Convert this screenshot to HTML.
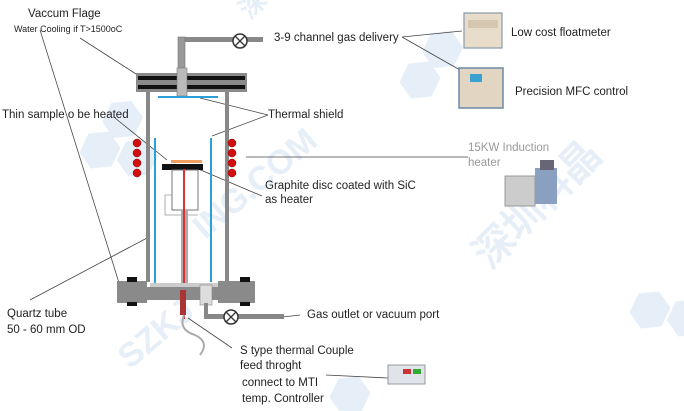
<!DOCTYPE html>
<html><head><meta charset="utf-8"><style>
html,body{margin:0;padding:0;background:#fff;}
svg{display:block;}
text{font-family:"Liberation Sans","DejaVu Sans",sans-serif;fill:#222;}
</style></head><body>
<svg width="684" height="411" viewBox="0 0 684 411" xmlns="http://www.w3.org/2000/svg">
<rect width="684" height="411" fill="#fff"/>
<!-- watermarks -->
<g fill="#dbe7f4" opacity="0.7">
<g transform="translate(100,150) rotate(-35)"><polygon points="-18,-10 0,-20 18,-10 18,10 0,20 -18,10"/><polygon points="18,-22 36,-32 54,-22 54,-2 36,8 18,-2"/><polygon points="8,18 26,8 44,18 44,38 26,48 8,38"/></g>
<g transform="translate(420,80) rotate(-35)"><polygon points="-18,-10 0,-20 18,-10 18,10 0,20 -18,10"/><polygon points="18,-22 36,-32 54,-22 54,-2 36,8 18,-2"/></g>
<g transform="translate(650,310) rotate(-35)"><polygon points="-18,-10 0,-20 18,-10 18,10 0,20 -18,10"/><polygon points="8,18 26,8 44,18 44,38 26,48 8,38"/></g>
<g transform="translate(350,395) rotate(-35)"><polygon points="-18,-10 0,-20 18,-10 18,10 0,20 -18,10"/></g>
</g>
<g opacity="0.7">
<text x="130" y="370" transform="rotate(-40 130 370)" font-size="34" font-weight="bold" style="fill:#dbe7f4">SZKJ</text>
<text x="205" y="240" transform="rotate(-40 205 240)" font-size="34" font-weight="bold" style="fill:#dbe7f4">ING.COM</text>
<text x="490" y="270" transform="rotate(-45 490 270)" font-size="40" font-weight="bold" style="fill:#dbe7f4">深圳科晶</text>
<text x="250" y="20" transform="rotate(-45 250 20)" font-size="26" font-weight="bold" style="fill:#dbe7f4">深圳</text>
</g>

<!-- leader lines -->
<g stroke="#444" stroke-width="0.8" fill="none">
<line x1="80" y1="38" x2="136" y2="74"/>
<line x1="40" y1="30" x2="120" y2="286"/>
<line x1="30" y1="300" x2="147" y2="238"/>
<line x1="115" y1="118" x2="167" y2="160"/>
<line x1="268" y1="115" x2="200" y2="98"/>
<line x1="268" y1="115" x2="212" y2="136"/>
<line x1="262" y1="196" x2="196" y2="168"/>
<line x1="246" y1="157" x2="468" y2="157"/>
<line x1="402" y1="37" x2="462" y2="31"/>
<line x1="402" y1="37" x2="460" y2="70"/>
<line x1="283" y1="317" x2="300" y2="315"/>
<line x1="188" y1="318" x2="232" y2="348"/>
<line x1="326" y1="375" x2="388" y2="378"/>
</g>

<!-- top pipe + valve -->
<rect x="178" y="37" width="85" height="5" fill="#888"/>
<rect x="178" y="37" width="7" height="58" fill="#999" stroke="#777" stroke-width="0.6"/>
<circle cx="240" cy="41" r="7" fill="#fff" stroke="#333" stroke-width="1.5"/>
<path d="M235,36 L245,46 M245,36 L235,46" stroke="#333" stroke-width="1.3"/>
<!-- top flange -->
<rect x="136" y="73" width="111" height="19" fill="#8a8a8a"/>
<rect x="138" y="76" width="107" height="4" fill="#111"/>
<rect x="138" y="85" width="107" height="4" fill="#111"/>
<rect x="177" y="68" width="10" height="28" fill="#bbb" stroke="#777" stroke-width="0.6"/>
<!-- walls -->
<rect x="146" y="92" width="4" height="190" fill="#888"/>
<rect x="225" y="92" width="4" height="190" fill="#888"/>
<!-- thermal shield -->
<rect x="158" y="96" width="60" height="2" fill="#2a9fd8"/>
<rect x="154" y="138" width="2" height="148" fill="#2a9fd8"/>
<rect x="210" y="138" width="2" height="144" fill="#2a9fd8"/>
<!-- coils -->
<g fill="#d01010" stroke="#900" stroke-width="0.5">
<circle cx="137" cy="143" r="4"/><circle cx="137" cy="153" r="4"/><circle cx="137" cy="163" r="4"/><circle cx="137" cy="173" r="4"/>
<circle cx="232" cy="143" r="4"/><circle cx="232" cy="153" r="4"/><circle cx="232" cy="163" r="4"/><circle cx="232" cy="173" r="4"/>
</g>
<!-- sample/disc/heater -->
<rect x="171" y="160" width="31" height="3" fill="#f0a060"/>
<rect x="162" y="164" width="41" height="6" fill="#111"/>
<rect x="172" y="170" width="26" height="40" fill="#fff" stroke="#777" stroke-width="1"/>
<path d="M165,195 L172,195 M165,195 L165,215 L198,215" stroke="#999" fill="none" stroke-width="0.8"/>
<rect x="181" y="210" width="7" height="75" fill="#aaa"/>
<rect x="183" y="169" width="2" height="150" fill="#e03030"/>
<!-- bottom flange -->
<rect x="117" y="281" width="30" height="22" fill="#8a8a8a"/>
<rect x="218" y="281" width="37" height="22" fill="#8a8a8a"/>
<rect x="117" y="287" width="138" height="13" fill="#8a8a8a"/>
<rect x="150" y="283" width="68" height="4" fill="#ccc"/>
<rect x="127" y="277" width="10" height="5" fill="#111"/>
<rect x="127" y="302" width="10" height="4" fill="#111"/>
<rect x="240" y="277" width="10" height="5" fill="#111"/>
<rect x="240" y="302" width="10" height="4" fill="#111"/>
<rect x="200" y="285" width="12" height="20" fill="#ddd" stroke="#888" stroke-width="0.6"/>
<rect x="180" y="290" width="6" height="25" fill="#a33"/>
<path d="M184,315 Q178,330 195,335 Q210,342 200,355" stroke="#aaa" fill="none" stroke-width="2"/>
<!-- gas outlet -->
<rect x="204" y="303" width="4" height="15" fill="#888"/>
<rect x="204" y="314" width="80" height="5" fill="#888"/>
<circle cx="231" cy="317" r="7" fill="#fff" stroke="#333" stroke-width="1.5"/>
<path d="M226,312 L236,322 M236,312 L226,322" stroke="#333" stroke-width="1.3"/>

<!-- devices -->
<rect x="464" y="13" width="38" height="35" fill="#e8dccb" stroke="#8899aa" stroke-width="1.2"/>
<rect x="468" y="20" width="30" height="8" fill="#d6c8b0"/>
<rect x="459" y="68" width="44" height="40" fill="#e2d6c2" stroke="#6a88aa" stroke-width="1.5"/>
<rect x="470" y="74" width="12" height="8" fill="#3aa0d0"/>
<rect x="505" y="176" width="30" height="30" fill="#ccc" stroke="#999"/>
<rect x="535" y="168" width="22" height="36" fill="#8aa0c0"/>
<rect x="540" y="160" width="14" height="10" fill="#667"/>
<rect x="388" y="365" width="37" height="19" fill="#dfe4ea" stroke="#999"/>
<rect x="403" y="369" width="8" height="5" fill="#c33"/><rect x="413" y="369" width="8" height="5" fill="#3a3"/>

<!-- labels -->
<text x="28" y="17" font-size="11.5">Vaccum Flage</text>
<text x="14" y="32" font-size="9">Water Cooling if T&gt;1500oC</text>
<text x="274" y="41" font-size="11.5">3-9 channel gas delivery</text>
<text x="511" y="36" font-size="11.5">Low cost floatmeter</text>
<text x="515" y="95" font-size="11.5">Precision MFC control</text>
<text x="2" y="118" font-size="11.5">Thin sample o be heated</text>
<text x="268" y="118" font-size="11.5">Thermal shield</text>
<text x="468" y="151" font-size="11.5" style="fill:#999">15KW Induction</text>
<text x="468" y="166" font-size="11.5" style="fill:#999">heater</text>
<text x="265" y="189" font-size="11.5">Graphite disc coated with SiC</text>
<text x="265" y="203" font-size="11.5">as heater</text>
<text x="7" y="317" font-size="11.5">Quartz tube</text>
<text x="7" y="333" font-size="11.5">50 - 60 mm OD</text>
<text x="307" y="318" font-size="11.5">Gas outlet or vacuum port</text>
<text x="240" y="354" font-size="11.5">S type thermal Couple</text>
<text x="240" y="369" font-size="11.5">feed throght</text>
<text x="242" y="386" font-size="11.5">connect to MTI</text>
<text x="242" y="402" font-size="11.5">temp. Controller</text>
</svg>
</body></html>
